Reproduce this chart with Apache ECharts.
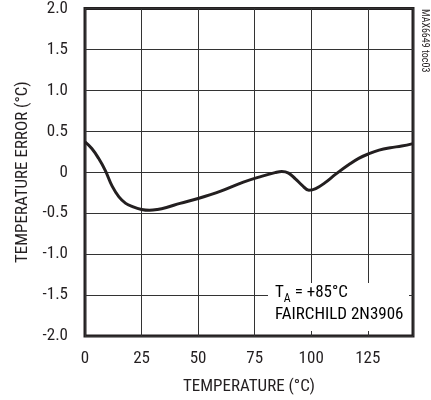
<!DOCTYPE html>
<html>
<head>
<meta charset="utf-8">
<script src="https://cdn.jsdelivr.net/npm/echarts@6/dist/echarts.min.js"></script>
<style>
html,body{margin:0;padding:0;background:#fff;}
#c{width:431px;height:400px;}
</style>
</head>
<body>
<div id="c"></div>
<script>
var temperature = [0, 3, 6, 9, 12, 15, 18, 21, 25, 28.5, 32, 36, 42, 50, 60, 70, 78, 84, 87, 90, 93, 96, 99, 102, 106, 111, 117, 121, 125, 130, 135, 140, 145];
var tempError = [0.37, 0.29, 0.17, 0.02, -0.17, -0.30, -0.38, -0.42, -0.455, -0.465, -0.455, -0.43, -0.38, -0.32, -0.23, -0.12, -0.05, -0.005, 0.01, -0.01, -0.08, -0.16, -0.22, -0.20, -0.13, -0.02, 0.10, 0.17, 0.22, 0.27, 0.30, 0.32, 0.35];
var xAxisTitle = 'TEMPERATURE (°C)';
var yAxisTitle = 'TEMPERATURE ERROR (°C)';
var noteLine1 = ['T', 'A', ' = +85°C'];
var noteLine2 = 'FAIRCHILD 2N3906';
var sideNote = 'MAX6649 toc03';

var FONT = "'Liberation Sans Narrow', 'Roboto Condensed', 'Liberation Sans', sans-serif";
var INK = '#231f20';

var pts = temperature.map(function (t, i) { return [t, tempError[i]]; });

var chart = echarts.init(document.getElementById('c'), null, {renderer: 'canvas'});
chart.setOption({
  animation: false,
  backgroundColor: '#fff',
  grid: {
    left: 85, right: 18, top: 8, bottom: 64,
    show: true, borderWidth: 3, borderColor: INK, backgroundColor: 'transparent'
  },
  xAxis: {
    type: 'value', min: 0, max: 145, interval: 25,
    name: xAxisTitle, nameLocation: 'middle', nameGap: 42,
    nameTextStyle: {fontFamily: FONT, fontSize: 17, color: INK},
    axisLine: {show: false}, axisTick: {show: false},
    axisLabel: {fontFamily: FONT, fontSize: 17, color: INK, margin: 14, showMaxLabel: false},
    splitLine: {show: true, lineStyle: {color: '#333', width: 1}}
  },
  yAxis: {
    type: 'value', min: -2, max: 2, interval: 0.5,
    name: yAxisTitle, nameLocation: 'middle', nameGap: 53,
    nameTextStyle: {fontFamily: FONT, fontSize: 17, color: INK},
    axisLine: {show: false}, axisTick: {show: false},
    axisLabel: {
      fontFamily: FONT, fontSize: 17, color: INK, margin: 17,
      formatter: function (v) { return v === 0 ? '0' : v.toFixed(1); }
    },
    splitLine: {show: true, lineStyle: {color: '#333', width: 1}}
  },
  graphic: [
    {
      type: 'rect', z: 50,
      shape: {x: 268, y: 283, width: 141, height: 48},
      style: {fill: '#fff'}
    },
    {
      type: 'text', z: 51, left: 275, top: 284,
      style: {
        text: '{a|' + noteLine1[0] + '}{s|' + noteLine1[1] + '}{a|' + noteLine1[2] + '}\n{a|' + noteLine2 + '}',
        rich: {
          a: {fontFamily: FONT, fontSize: 17, color: INK, lineHeight: 22, verticalAlign: 'bottom'},
          s: {fontFamily: FONT, fontSize: 12, color: INK, lineHeight: 22, verticalAlign: 'bottom', padding: [0, 0, -4, 0]}
        }
      }
    },
    {
      type: 'text', z: 51, x: 429, y: 9, rotation: -Math.PI / 2,
      style: {text: sideNote, fontFamily: FONT, fontSize: 10, fill: INK, align: 'left', verticalAlign: 'top'}
    }
  ],
  series: [{
    type: 'line', data: pts, smooth: 0.4, symbol: 'none',
    lineStyle: {color: INK, width: 3}, z: 20
  }]
});
</script>
</body>
</html>
